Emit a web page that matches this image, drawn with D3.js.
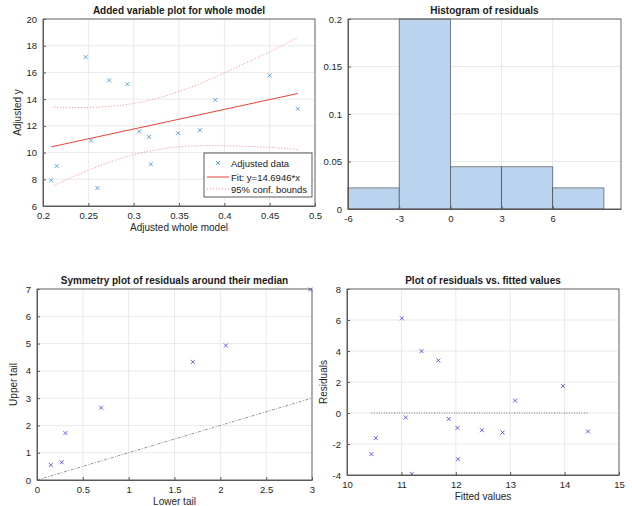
<!DOCTYPE html>
<html><head><meta charset="utf-8">
<script src="https://cdn.jsdelivr.net/npm/d3@7"></script>
<style>
body{margin:0;background:#fff;}
svg{display:block;font-family:"Liberation Sans",Arial,sans-serif;}
</style></head>
<body><svg id="c" width="632" height="506"></svg>
<script>
// ---- Panel 1: added variable plot ----
const avX = [0.209,0.215,0.247,0.253,0.260,0.273,0.293,0.306,0.317,0.319,0.349,0.373,0.390,0.450,0.481];
const avY = [7.92,9.00,17.15,10.90,7.35,15.40,15.12,11.58,11.18,9.12,11.45,11.68,13.95,15.78,13.28];
const fitSlope = 14.6946;
const fitIntercept = 7.355;
const boundX = [0.212,0.24,0.27,0.30,0.33,0.36,0.39,0.42,0.45,0.481];
const boundUpper = [13.40,13.37,13.44,13.68,14.14,14.82,15.66,16.59,17.55,18.62];
const boundLower = [7.54,8.39,9.20,9.84,10.26,10.48,10.52,10.47,10.39,10.22];
const p1XTicks = [0.2,0.25,0.3,0.35,0.4,0.45,0.5];
const p1YTicks = [6,8,10,12,14,16,18,20];
const legendLabels = ["Adjusted data","Fit: y=14.6946*x","95% conf. bounds"];

// ---- Panel 2: histogram ----
const binEdges = [-6,-3,0,3,6,9];
const binDensity = [0.0222,0.2,0.0444,0.0444,0.0222];
const p2XTicks = [-6,-3,0,3,6];
const p2YTicks = [0,0.05,0.1,0.15,0.2];

// ---- Panel 3: symmetry plot ----
const lowerTail = [0.15,0.27,0.31,0.70,1.70,2.06,2.98];
const upperTail = [0.55,0.65,1.72,2.65,4.33,4.93,6.98];
const p3XTicks = [0,0.5,1,1.5,2,2.5,3];
const p3YTicks = [0,1,2,3,4,5,6,7];

// ---- Panel 4: residuals vs fitted ----
const fitted = [11.01,11.37,11.68,13.97,13.09,11.08,11.87,12.03,12.48,12.86,14.43,10.53,10.45,12.04,11.19];
const residuals = [6.11,3.99,3.39,1.74,0.80,-0.29,-0.38,-0.96,-1.11,-1.26,-1.19,-1.62,-2.65,-2.98,-3.93];
const p4XTicks = [10,11,12,13,14,15];
const p4YTicks = [-4,-2,0,2,4,6,8];

const svg = d3.select("#c");
const TXT = "#262626", GRID = "#e3e3e3", AX = "#5a5a5a";
const plain = d => String(d);

function makeAxes(o){
  const g = svg.append("g");
  const x = d3.scaleLinear().domain(o.xd).range([o.l,o.r]);
  const y = d3.scaleLinear().domain(o.yd).range([o.b,o.t]);
  g.selectAll(".gx").data(o.xt).enter().append("line")
    .attr("x1",d=>x(d)).attr("x2",d=>x(d)).attr("y1",o.t).attr("y2",o.b)
    .attr("stroke",GRID).attr("stroke-width",0.8);
  g.selectAll(".gy").data(o.yt).enter().append("line")
    .attr("y1",d=>y(d)).attr("y2",d=>y(d)).attr("x1",o.l).attr("x2",o.r)
    .attr("stroke",GRID).attr("stroke-width",0.8);
  const plot = svg.append("g");
  const top = svg.append("g");
  top.append("rect").attr("x",o.l).attr("y",o.t).attr("width",o.r-o.l).attr("height",o.b-o.t)
    .attr("fill","none").attr("stroke",AX).attr("stroke-width",0.9);
  const xa = top.append("g").attr("transform",`translate(0,${o.b})`)
    .call(d3.axisBottom(x).tickValues(o.xt).tickSizeInner(-3).tickSizeOuter(0).tickPadding(6).tickFormat(plain));
  const ya = top.append("g").attr("transform",`translate(${o.l},0)`)
    .call(d3.axisLeft(y).tickValues(o.yt).tickSizeInner(-3).tickSizeOuter(0).tickPadding(6).tickFormat(plain));
  [xa,ya].forEach(a=>{
    a.select(".domain").attr("stroke",AX);
    a.selectAll(".tick line").attr("stroke",AX);
    a.selectAll("text").attr("fill",TXT).attr("font-size","9.5px").attr("font-family","Liberation Sans, Arial, sans-serif");
  });
  if(o.title) svg.append("text").attr("x",(o.l+o.r)/2).attr("y",o.t-5).attr("text-anchor","middle")
    .attr("font-weight","bold").attr("font-size","10px").attr("fill","#1a1a1a").text(o.title);
  if(o.xl) svg.append("text").attr("x",(o.l+o.r)/2).attr("y",o.b+25).attr("text-anchor","middle")
    .attr("font-size","10px").attr("fill",TXT).text(o.xl);
  if(o.yl) svg.append("text").attr("transform",`translate(${o.l-o.ylOff},${(o.t+o.b)/2}) rotate(-90)`)
    .attr("text-anchor","middle").attr("font-size","10px").attr("fill",TXT).text(o.yl);
  return {x,y,plot,top};
}

function crosses(gp, pts, x, y, color, s){
  gp.selectAll(null).data(pts).enter().append("path")
    .attr("d",d=>{const cx=x(d[0]),cy=y(d[1]);return `M${cx-s},${cy-s}L${cx+s},${cy+s}M${cx-s},${cy+s}L${cx+s},${cy-s}`;})
    .attr("stroke",color).attr("stroke-width",0.8).attr("fill","none");
}

// Panel 1
{
  const A = makeAxes({l:43,r:315,t:19,b:206,xd:[0.2,0.5],yd:[6,20],xt:p1XTicks,yt:p1YTicks,
    title:"Added variable plot for whole model", xl:"Adjusted whole model", yl:"Adjusted y", ylOff:22});
  const bx = d3.extent(avX);
  const line = d3.line().x(d=>A.x(d[0])).y(d=>A.y(d[1]));
  const bnd = d3.line().curve(d3.curveMonotoneX).x(d=>A.x(d[0])).y(d=>A.y(d[1]));
  A.plot.append("path").attr("d",bnd(boundX.map((v,i)=>[v,boundUpper[i]])))
    .attr("fill","none").attr("stroke","#f08080").attr("stroke-width",0.9).attr("stroke-dasharray","1,2");
  A.plot.append("path").attr("d",bnd(boundX.map((v,i)=>[v,boundLower[i]])))
    .attr("fill","none").attr("stroke","#f08080").attr("stroke-width",0.9).attr("stroke-dasharray","1,2");
  A.plot.append("path").attr("d",line([[bx[0],fitIntercept+fitSlope*bx[0]],[bx[1],fitIntercept+fitSlope*bx[1]]]))
    .attr("fill","none").attr("stroke","#e8403a").attr("stroke-width",1);
  crosses(A.plot, avX.map((v,i)=>[v,avY[i]]), A.x, A.y, "#3d8fc4", 2);
  const lg = A.top.append("g");
  lg.append("rect").attr("x",204).attr("y",153).attr("width",108).attr("height",44)
    .attr("fill","#fff").attr("stroke","#333").attr("stroke-width",0.8);
  const ly = [163,177,189];
  crosses(lg, [[218,ly[0]]], v=>v, v=>v, "#3d8fc4", 2);
  lg.append("line").attr("x1",207).attr("x2",229).attr("y1",ly[1]).attr("y2",ly[1]).attr("stroke","#e8403a").attr("stroke-width",1);
  lg.append("line").attr("x1",207).attr("x2",229).attr("y1",ly[2]).attr("y2",ly[2]).attr("stroke","#f08080").attr("stroke-width",0.9).attr("stroke-dasharray","1,2");
  lg.selectAll(null).data(legendLabels).enter().append("text")
    .attr("x",231).attr("y",(d,i)=>ly[i]+3.5).attr("font-size","9.5px").attr("fill","#1a1a1a").text(d=>d);
}

// Panel 2
{
  const A = makeAxes({l:348,r:621,t:19,b:209,xd:[-6,10],yd:[0,0.2],xt:p2XTicks,yt:p2YTicks,
    title:"Histogram of residuals"});
  A.plot.selectAll(null).data(binDensity).enter().append("rect")
    .attr("x",(d,i)=>A.x(binEdges[i])).attr("width",(d,i)=>A.x(binEdges[i+1])-A.x(binEdges[i]))
    .attr("y",d=>A.y(d)).attr("height",d=>A.y(0)-A.y(d))
    .attr("fill","#bad4ef").attr("stroke","#3a3a3a").attr("stroke-width",0.6);
}

// Panel 3
{
  const A = makeAxes({l:37,r:312,t:289,b:480,xd:[0,3],yd:[0,7],xt:p3XTicks,yt:p3YTicks,
    title:"Symmetry plot of residuals around their median", xl:"Lower tail", yl:"Upper tail", ylOff:20});
  A.plot.append("line").attr("x1",A.x(0)).attr("y1",A.y(0)).attr("x2",A.x(3)).attr("y2",A.y(3))
    .attr("stroke","#8a8a8a").attr("stroke-width",0.9).attr("stroke-dasharray","3,1.5,1,1.5");
  crosses(A.plot, lowerTail.map((v,i)=>[v,upperTail[i]]), A.x, A.y, "#4040d0", 2);
}

// Panel 4
{
  const A = makeAxes({l:347,r:619,t:289,b:475,xd:[10,15],yd:[-4,8],xt:p4XTicks,yt:p4YTicks,
    title:"Plot of residuals vs. fitted values", xl:"Fitted values", yl:"Residuals", ylOff:20});
  const fx = d3.extent(fitted);
  A.plot.append("line").attr("x1",A.x(fx[0])).attr("x2",A.x(fx[1])).attr("y1",A.y(0)).attr("y2",A.y(0))
    .attr("stroke","#707070").attr("stroke-width",0.9).attr("stroke-dasharray","1,1.5");
  crosses(A.plot, fitted.map((v,i)=>[v,residuals[i]]), A.x, A.y, "#4040d0", 2);
}
</script></body></html>
